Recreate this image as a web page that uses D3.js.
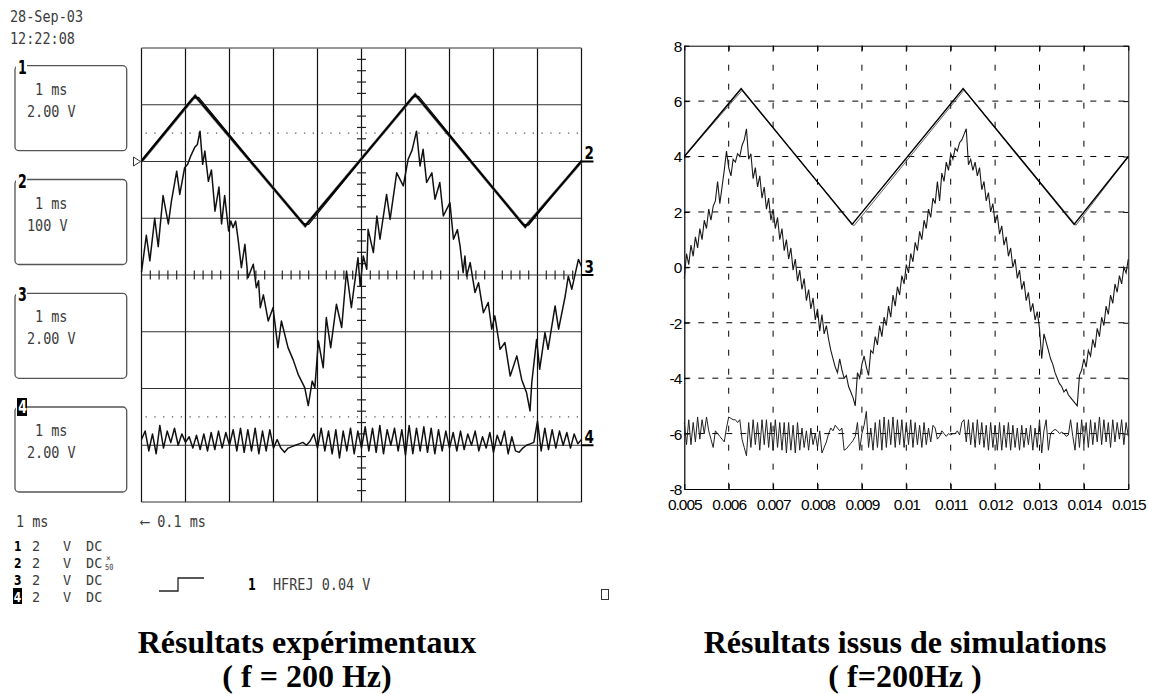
<!DOCTYPE html>
<html><head><meta charset="utf-8">
<script src="https://cdn.jsdelivr.net/npm/d3@7"></script>
<style>body{margin:0;background:#fff}svg{display:block}</style>
</head><body>
<svg id="c" width="1149" height="694"></svg>
<script>
// ================= DATA =================
// --- Oscilloscope (left) ---
const scopeStamp = ["28-Sep-03", "12:22:08"];
const boxLabels = ["1", "2", "3", "4"];
const boxTimes = ["1 ms", "1 ms", "1 ms", "1 ms"];
const boxScales = ["2.00 V", "100 V", "2.00 V", "2.00 V"];
const rowLabels = ["1", "2", "3", "4"];
const rowVolts = ["2", "2", "2", "2"];
const rowUnits = ["V", "V", "V", "V"];
const rowCoupling = ["DC", "DC", "DC", "DC"];
const timebase = "1 ms";
const delayText = "\u27F5 0.1 ms";
const triggerText = ["1", "HFREJ 0.04 V"];
const scopeDivX = [0,1,2,3,4,5,6,7,8,9,10];       // ms (1 ms/div)
const scopeDivY = [-4,-3,-2,-1,0,1,2,3,4];        // divisions
const scopeDotted = [2.5, -2.5];                  // divisions
const chOffsetDiv = {ch1: 2, ch2: 2, ch3: 0, ch4: -3};
const voltsPerDiv = 2;

// ch1 : triangle (time ms, volts)
const ch1T = [0, 1.22, 3.72, 6.22, 8.72, 10];
const ch1V = [0.0, 2.31, -2.27, 2.36, -2.30, 0.0];
// ch2 : second triangle, almost superimposed
const ch2T = [0, 1.15, 1.30, 3.65, 3.80, 6.15, 6.30, 8.65, 8.80, 10];
const ch2V = [0.05, 2.22, 2.26, -2.17, -2.22, 2.27, 2.30, -2.20, -2.24, 0.05];
// ch3 : current-like signal with ripple (time ms, volts)
const ch3T = [0.00,0.11,0.19,0.30,0.38,0.49,0.61,0.68,0.80,0.87,0.98,1.05,1.12,1.21,1.27,1.33,1.39,1.44,1.52,1.59,1.67,1.76,1.82,1.89,1.98,2.03,2.08,2.14,2.20,2.27,2.35,2.42,2.54,2.61,2.66,2.70,2.77,2.88,2.99,3.10,3.18,3.33,3.45,3.56,3.71,3.79,3.88,3.94,4.02,4.13,4.20,4.30,4.43,4.55,4.66,4.77,4.92,4.97,5.04,5.12,5.15,5.27,5.35,5.42,5.57,5.65,5.80,5.95,6.06,6.15,6.25,6.33,6.40,6.48,6.60,6.67,6.78,6.86,7.01,7.09,7.18,7.24,7.31,7.35,7.39,7.47,7.58,7.66,7.77,7.88,7.96,8.03,8.15,8.26,8.38,8.53,8.64,8.75,8.83,8.87,8.98,9.05,9.17,9.24,9.40,9.48,9.63,9.70,9.78,9.93,10.0];
const ch3V = [0.1,1.4,0.5,2.0,1.0,2.8,1.8,2.6,3.66,2.84,3.78,3.9,4.2,4.5,4.6,5.07,3.9,4.37,3.3,3.7,2.25,3.1,1.8,2.8,1.55,1.9,1.67,1.9,1.2,0.26,1.08,-0.1,0.38,-0.45,-0.2,-1.15,-0.7,-1.62,-1.15,-2.56,-1.62,-2.56,-3.0,-3.5,-3.97,-4.6,-3.74,-3.97,-2.33,-3.27,-1.5,-2.56,-1.03,-1.85,0.14,-1.15,0.61,-0.39,0.67,0.2,1.61,0.79,2.08,1.26,2.84,1.96,3.6,3.14,4.08,4.4,5.07,3.84,4.43,3.26,3.6,2.67,3.26,2.08,2.55,1.26,1.6,1.02,0.08,0.67,-0.04,0.44,-0.62,-0.27,-1.33,-0.97,-1.91,-1.44,-2.62,-2.38,-3.56,-2.85,-3.68,-4.14,-4.79,-3.79,-2.27,-3.32,-2.03,-2.62,-1.09,-1.91,-0.74,-0.04,-0.5,0.55,0.3];
// ch4 : ripple signal, sampled every 1/12 ms (volts)
const ch4Step = 1/12;
const ch4V = [0.2,0.5,-0.2,0.4,-0.3,0.7,-0.1,0.5,0.1,0.6,0.0,0.4,0.1,
  0.3,-0.1,0.35,-0.15,0.4,-0.2,0.45,-0.15,0.5,-0.1,0.45,0.0,
  0.55,-0.2,0.6,-0.25,0.55,-0.2,0.6,-0.3,0.5,-0.2,0.55,-0.1,
  0.2,-0.1,-0.25,-0.1,-0.05,0.0,0.05,0.1,0.0,0.15,
  0.4,-0.1,0.6,-0.2,0.5,-0.3,0.55,-0.45,0.5,-0.2,0.6,-0.3,0.5,-0.1,
  0.65,-0.2,0.6,-0.25,0.7,-0.3,0.55,0.0,0.6,-0.2,0.55,-0.35,
  0.7,-0.3,0.6,-0.2,0.65,-0.25,0.6,-0.3,0.55,-0.2,0.5,-0.1,0.45,-0.2,0.5,-0.15,0.4,0.0,
  0.5,-0.2,0.3,-0.1,0.45,-0.25,0.35,0.0,0.5,-0.3,0.3,-0.2,
  -0.25,-0.1,0.0,0.05,0.1,
  0.85,-0.2,0.6,-0.15,0.55,-0.1,0.5,0.0,0.45,-0.1,0.4,0.05,0.2];

// --- Simulation (right) ---
const simXTicks = [0.005,0.006,0.007,0.008,0.009,0.01,0.011,0.012,0.013,0.014,0.015];
const simXTickLabels = ["0.005","0.006","0.007","0.008","0.009","0.01","0.011","0.012","0.013","0.014","0.015"];
const simYTicks = [-8,-6,-4,-2,0,2,4,6,8];
const simYTickLabels = ["-8","-6","-4","-2","0","2","4","6","8"];
const triT = [0.005, 0.00628, 0.00878, 0.01128, 0.01378, 0.015];
const triV = [4.0, 6.45, 1.55, 6.45, 1.55, 4.0];
const tri2T = [0.005, 0.0063, 0.00882, 0.0113, 0.01382, 0.015];
const tri2V = [4.0, 6.38, 1.50, 6.40, 1.52, 4.0];
const simStep = 0.00005; // s
const simCurrent = [-0.4,0.5,0.1,0.8,0.4,1.1,0.7,1.4,1.0,1.7,1.4,2.1,1.7,2.2,2.4,3.1,2.3,2.9,3.5,4.2,3.6,3.3,3.9,3.8,4.1,4.0,4.4,4.6,5.0,
  3.9,4.1,3.2,3.6,2.9,3.3,2.5,2.9,2.1,2.5,1.7,2.1,1.4,1.8,1.0,1.4,0.6,1.0,0.3,0.7,-0.1,0.3,-0.5,-0.1,-0.8,-0.4,-1.2,-0.8,-1.5,-1.1,-1.9,-1.5,-2.3,-1.7,-2.4,-2.1,-2.6,-3.0,-3.3,-3.6,-3.8,-3.3,-3.7,-4.0,-3.9,-4.3,-4.5,-4.7,-5.0,
  -3.8,-4.0,-3.5,-3.2,-3.6,-3.9,-3.0,-3.1,-2.5,-2.8,-2.1,-2.5,-1.8,-2.1,-1.4,-1.8,-1.0,-1.4,-0.7,-1.0,-0.3,-0.6,0.1,-0.2,0.5,0.2,0.9,0.6,1.3,1.0,1.7,1.4,2.1,1.8,2.5,2.3,3.1,2.4,3.4,3.1,3.8,3.5,4.1,3.9,4.3,4.2,4.5,4.6,4.8,5.0,
  3.7,3.9,3.5,3.8,3.3,3.6,2.8,3.1,2.4,2.7,2.0,2.3,1.6,1.9,1.2,1.5,0.8,1.1,0.4,0.7,0.0,0.3,-0.4,-0.1,-0.8,-0.5,-1.2,-0.9,-1.6,-1.3,-1.9,-1.6,
  -2.2,-3.3,-2.4,-2.7,-3.0,-3.3,-3.5,-3.8,-4.0,-4.2,-4.3,-4.5,-4.4,-4.6,-4.7,-4.8,-4.9,-5.0,
  -3.9,-3.7,-3.3,-3.6,-3.0,-3.2,-2.6,-2.9,-2.2,-2.5,-1.8,-2.1,-1.4,-1.7,-1.0,-1.3,-0.6,-0.9,-0.3,-0.6,0.0,-0.2,0.3];
const simRipple = [-5.6,-6.4,-5.5,-6.4,-5.6,-6.3,-5.4,-6.2,-5.5,-6.0,-5.4,-5.9,-6.2,-6.5,-5.9,
  -6.0,-6.1,-6.2,-6.3,-5.8,-5.4,
  -5.45,-5.5,-5.5,-5.6,-5.5,-6.2,
  -6.5,-6.8,
  -5.6,-6.5,-5.5,-6.4,-5.6,-6.6,-5.5,-6.4,-5.5,-6.5,-5.6,-6.6,-5.5,-6.5,-5.6,-6.6,-5.6,-6.7,-5.6,-6.6,-5.7,-6.7,-5.6,-6.6,-5.8,-6.5,-5.9,-6.6,-5.8,-6.4,-6.0,-6.5,-5.9,-6.7,-6.5,
  -6.3,-6.0,-5.8,-5.9,-5.7,-5.8,-5.9,-5.8,
  -6.6,-6.55,-6.45,-6.35,-6.25,-6.1,-5.6,
  -6.6,-6.0,-5.7,-5.2,-6.5,-5.8,
  -6.6,-5.6,-6.5,-5.5,-6.6,-5.4,-6.5,-5.5,-6.4,-5.4,-6.5,-5.5,-6.4,-5.5,-6.5,-5.6,-6.4,-5.5,-6.5,-5.6,-6.4,-5.7,-6.5,-5.6,-6.4,-5.8,-6.3,-5.7,
  -5.8,-6.2,-6.1,-5.9,-6.0,-6.1,-6.0,-6.05,-6.0,
  -6.0,-5.9,-6.05,-5.6,-5.5,
  -6.3,-5.5,-6.4,-5.6,-6.5,-5.5,-6.4,-5.6,-6.5,-5.7,-6.6,-5.6,-6.5,-5.7,-6.6,-5.6,-6.6,-5.7,-6.5,-5.6,-6.6,-5.7,-6.5,-5.8,-6.6,-5.7,-6.5,-5.8,-6.4,-5.7,-6.6,-5.8,-6.5,-5.5,-6.7,-5.9,
  -5.5,-6.6,-6.0,-5.9,-5.85,-5.9,-6.0,-5.95,-6.0,-6.1,-6.05,-5.5,-6.1,
  -6.6,-5.6,-6.5,-5.5,-6.4,-5.6,-6.5,-5.5,-6.4,-5.6,-6.3,-5.4,-6.4,-5.5,-6.3,-5.6,-6.5,-5.5,-6.3,-5.6,-6.2,-5.5,-6.4,-5.6,-6.1];
const titleLeft = ["Résultats expérimentaux", "( f = 200 Hz)"];
const titleRight = ["Résultats issus de simulations", "( f=200Hz )"];

// ================= DRAW =================
const svg = d3.select("#c");
const MONO = "DejaVu Sans Mono, Liberation Mono, monospace";
const BOLDD = "DejaVu Sans Condensed, DejaVu Sans, sans-serif";
function stext(x, y, s, o = {}) {
  return svg.append("text")
    .attr("transform", `translate(${x},${y}) scale(1,${o.sy || 1.2})`)
    .attr("font-family", o.family || MONO)
    .attr("font-size", o.size || 13.5)
    .attr("font-weight", o.weight || "normal")
    .attr("fill", o.fill || "#3c3c3c")
    .attr("text-anchor", o.anchor || "start")
    .text(s);
}

// ---------- Scope ----------
const sx = d3.scaleLinear().domain([0, 10]).range([141.5, 581.5]);
const sy = d3.scaleLinear().domain([-4, 4]).range([502, 48]);
const gS = svg.append("g");

gS.selectAll("line.vg").data(scopeDivX).join("line")
  .attr("x1", d => sx(d)).attr("x2", d => sx(d)).attr("y1", sy(4)).attr("y2", sy(-4))
  .attr("stroke", "#111").attr("stroke-width", 1.2);
gS.selectAll("line.hg").data(scopeDivY).join("line")
  .attr("x1", sx(0)).attr("x2", sx(10)).attr("y1", d => sy(d)).attr("y2", d => sy(d))
  .attr("stroke", d => (d === 4 ? "#777" : "#333")).attr("stroke-width", d => (d === 4 ? 1.6 : 1.2));
gS.selectAll("line.dl").data(scopeDotted).join("line")
  .attr("x1", sx(0) + 4).attr("x2", sx(10)).attr("y1", d => sy(d)).attr("y2", d => sy(d))
  .attr("stroke", "#555").attr("stroke-width", 1.2).attr("stroke-dasharray", "1.3,7.5");
const minorX = d3.range(0, 50).map(i => i * 0.2).filter(v => Math.abs(v - Math.round(v)) > 0.01);
gS.selectAll("line.mx").data(minorX).join("line")
  .attr("x1", d => sx(d)).attr("x2", d => sx(d)).attr("y1", sy(0) - 4.5).attr("y2", sy(0) + 4.5)
  .attr("stroke", "#222").attr("stroke-width", 1.2);
const minorY = d3.range(-20, 20).map(i => i * 0.2).filter(v => Math.abs(v - Math.round(v)) > 0.01);
gS.selectAll("line.my").data(minorY).join("line")
  .attr("x1", sx(5) - 4.5).attr("x2", sx(5) + 4.5).attr("y1", d => sy(d)).attr("y2", d => sy(d))
  .attr("stroke", "#222").attr("stroke-width", 1.2);

const scLine = (off) => d3.line().x(d => sx(d[0])).y(d => sy(off + d[1] / voltsPerDiv));
const ch1 = d3.zip(ch1T, ch1V), ch2 = d3.zip(ch2T, ch2V), ch3 = d3.zip(ch3T, ch3V);
const ch4 = ch4V.map((v, i) => [i * ch4Step, v]);
gS.append("path").attr("d", scLine(chOffsetDiv.ch1)(ch1)).attr("fill", "none").attr("stroke", "#777").attr("stroke-width", 3);
gS.append("path").attr("d", scLine(chOffsetDiv.ch1)(ch1)).attr("fill", "none").attr("stroke", "#000").attr("stroke-width", 1.8);
gS.append("path").attr("d", scLine(chOffsetDiv.ch2)(ch2)).attr("fill", "none").attr("stroke", "#000").attr("stroke-width", 1.1);
gS.append("path").attr("d", scLine(chOffsetDiv.ch3)(ch3)).attr("fill", "none").attr("stroke", "#111").attr("stroke-width", 1.5).attr("stroke-linejoin", "round");
gS.append("path").attr("d", scLine(chOffsetDiv.ch4)(ch4)).attr("fill", "none").attr("stroke", "#111").attr("stroke-width", 1.5).attr("stroke-linejoin", "round");

// channel markers
const tri = sy(chOffsetDiv.ch1);
gS.append("path").attr("d", `M${sx(0) - 8},${tri - 4.5} L${sx(0) - 1},${tri} L${sx(0) - 8},${tri + 4.5} Z`)
  .attr("fill", "#fff").attr("stroke", "#333").attr("stroke-width", 1);
[["2", chOffsetDiv.ch2], ["3", chOffsetDiv.ch3], ["4", chOffsetDiv.ch4]].forEach(([lab, off]) => {
  const yy = sy(off);
  gS.append("line").attr("x1", sx(10)).attr("x2", sx(10) + 12).attr("y1", yy).attr("y2", yy).attr("stroke", "#000").attr("stroke-width", 2);
  stext(sx(10) + 3, yy - 2.5, lab, {family: BOLDD, weight: "bold", size: 15, fill: "#000", sy: 1.2});
});

// stamp
stext(10, 22, scopeStamp[0]);
stext(10, 44, scopeStamp[1]);

// channel boxes
const boxTop = [65.7, 179.5, 293.3, 407];
boxLabels.forEach((lab, i) => {
  const t = boxTop[i];
  svg.append("rect").attr("x", 15).attr("y", t).attr("width", 111.7).attr("height", 85).attr("rx", 4)
    .attr("fill", "none").attr("stroke", "#555").attr("stroke-width", 1.3);
  svg.append("rect").attr("x", 16).attr("y", t - 5).attr("width", 11).attr("height", 14).attr("fill", "#fff");
  if (i === 3) {
    svg.append("rect").attr("x", 17).attr("y", t - 9).attr("width", 10).attr("height", 18).attr("fill", "#000");
    stext(18.3, t + 6, lab, {family: BOLDD, weight: "bold", size: 14, fill: "#fff", sy: 1.3});
  } else {
    stext(18, t + 8, lab, {family: BOLDD, weight: "bold", size: 14, fill: "#000", sy: 1.35});
  }
  stext(35, t + 29, boxTimes[i]);
  stext(27, t + 51, boxScales[i]);
});

// bottom-left texts
stext(16, 527, timebase);
stext(141, 527, delayText);
const rowY = [551, 568, 585, 602];
rowLabels.forEach((lab, i) => {
  const y = rowY[i];
  if (i === 3) {
    svg.append("rect").attr("x", 13).attr("y", y - 14).attr("width", 9).attr("height", 16).attr("fill", "#000");
    stext(13.8, y, lab, {family: BOLDD, weight: "bold", size: 12, fill: "#fff", sy: 1.2});
  } else {
    stext(14, y, lab, {family: BOLDD, weight: "bold", size: 12, fill: "#000", sy: 1.2});
  }
  stext(32, y, rowVolts[i], {sy: 1.1});
  stext(63, y, rowUnits[i], {sy: 1.1});
  stext(86, y, rowCoupling[i], {sy: 1.1});
});
stext(106, 561, "\u00D7", {size: 8, sy: 1});
stext(105, 570, "50", {size: 7, sy: 1.2});
// trigger symbol
svg.append("path").attr("d", "M159,591 H178 V578 H204").attr("fill", "none").attr("stroke", "#222").attr("stroke-width", 1.3);
stext(248, 590, triggerText[0], {family: BOLDD, weight: "bold", size: 12.5, fill: "#000", sy: 1.3});
stext(273, 590, triggerText[1]);
svg.append("rect").attr("x", 601.5).attr("y", 589.5).attr("width", 7).attr("height", 10).attr("fill", "none").attr("stroke", "#333").attr("stroke-width", 1);

// ---------- Simulation ----------
const x = d3.scaleLinear().domain([0.005, 0.015]).range([684.3, 1128.3]);
const y = d3.scaleLinear().domain([-8, 8]).range([489, 45.7]);
const gR = svg.append("g");
gR.selectAll("line.gx").data(simXTicks.slice(1, -1)).join("line")
  .attr("x1", d => x(d)).attr("x2", d => x(d)).attr("y1", y(8)).attr("y2", y(-8))
  .attr("stroke", "#000").attr("stroke-width", 1).attr("stroke-dasharray", "6,13");
gR.selectAll("line.gy").data(simYTicks.slice(1, -1)).join("line")
  .attr("x1", x(0.005)).attr("x2", x(0.015)).attr("y1", d => y(d)).attr("y2", d => y(d))
  .attr("stroke", "#000").attr("stroke-width", 1).attr("stroke-dasharray", "6,8");

const ax = gR.append("g").attr("transform", `translate(0,${y(-8)})`)
  .call(d3.axisBottom(x).tickValues(simXTicks).tickFormat((d, i) => simXTickLabels[i]).tickSizeInner(-5).tickSizeOuter(0).tickPadding(10));
const ay = gR.append("g").attr("transform", `translate(${x(0.005)},0)`)
  .call(d3.axisLeft(y).tickValues(simYTicks).tickFormat((d, i) => simYTickLabels[i]).tickSizeInner(-5).tickSizeOuter(0).tickPadding(3));
[ax, ay].forEach(g => {
  g.selectAll("path.domain").attr("stroke", "#000").attr("stroke-width", 1.2);
  g.selectAll("line").attr("stroke", "#000");
  g.selectAll("text").attr("font-family", "Liberation Sans, Arial, sans-serif").attr("font-size", 15.5).attr("fill", "#000").attr("letter-spacing", "-1px");
});
ay.selectAll("text").attr("dy", "0.35em");
gR.append("g").attr("transform", `translate(0,${y(8)})`)
  .call(d3.axisTop(x).tickValues(simXTicks).tickFormat("").tickSizeInner(-5).tickSizeOuter(0))
  .call(g => g.selectAll("path,line").attr("stroke", "#000").attr("stroke-width", 1));
gR.append("g").attr("transform", `translate(${x(0.015)},0)`)
  .call(d3.axisRight(y).tickValues(simYTicks).tickFormat("").tickSizeInner(-5).tickSizeOuter(0))
  .call(g => g.selectAll("path,line").attr("stroke", "#000").attr("stroke-width", 1));

const ln = d3.line().x(d => x(d[0])).y(d => y(d[1]));
gR.append("path").attr("d", ln(simRipple.map((v, i) => [0.005 + i * simStep, v]))).attr("fill", "none").attr("stroke", "#222").attr("stroke-width", 1);
gR.append("path").attr("d", ln(simCurrent.map((v, i) => [0.005 + i * simStep, v]))).attr("fill", "none").attr("stroke", "#1a1a1a").attr("stroke-width", 1.1);
gR.append("path").attr("d", ln(d3.zip(tri2T, tri2V))).attr("fill", "none").attr("stroke", "#555").attr("stroke-width", 0.9);
gR.append("path").attr("d", ln(d3.zip(triT, triV))).attr("fill", "none").attr("stroke", "#000").attr("stroke-width", 1.5);

// ---------- Titles ----------
const SERIF = "Liberation Serif, Times New Roman, serif";
[[titleLeft, 307], [titleRight, 905]].forEach(([t, cx]) => {
  t.forEach((s, i) => {
    svg.append("text").attr("x", cx).attr("y", i === 0 ? 653 : 687).attr("text-anchor", "middle")
      .attr("font-family", SERIF).attr("font-weight", "bold").attr("font-size", 32).attr("fill", "#000").text(s);
  });
});
</script>
</body></html>
